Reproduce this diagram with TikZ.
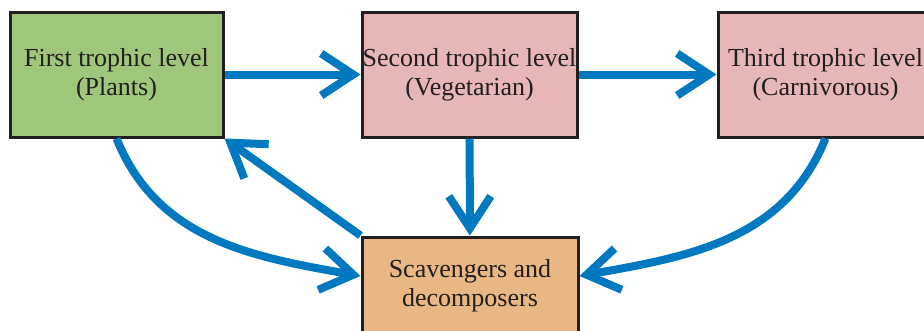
\documentclass[tikz,border=0pt]{standalone}
\usepackage{fontspec}
\setmainfont{Liberation Serif}
\usetikzlibrary{arrows.meta,positioning}
\definecolor{ink}{HTML}{231F20}
\definecolor{flow}{HTML}{0079C1}
\definecolor{plantgreen}{HTML}{9FC67A}
\definecolor{levelpink}{HTML}{E6B6B9}
\definecolor{decomp}{HTML}{E8B784}
\tikzset{
  level/.style={draw=ink,line width=3pt,minimum width=213pt,minimum height=125pt,inner sep=0pt,align=center,
    text=ink,font=\fontsize{26}{29}\selectfont},
  levela/.style={level,fill=plantgreen},
  levelb/.style={level,fill=levelpink},
  levelc/.style={level,fill=decomp,minimum width=216pt,minimum height=98pt},
  ar/.style={-{Straight Barb[length=32pt,width=42pt]},draw=flow,line width=8pt},
}

\begin{document}
\begin{tikzpicture}[x=1pt,y=1pt]
  \useasboundingbox (0,0) rectangle (924,-330);
  \node[levela] (first) at (116.5,-74.5) {First trophic level\\(Plants)};
  \node[levelb,minimum width=215pt] (second) at (469.5,-74.5) {Second trophic level\\(Vegetarian)};
  \node[levelb,minimum width=215pt] (third) at (825.5,-74.5) {Third trophic level\\(Carnivorous)};
  \node[levelc] (scav) at (470,-286) {Scavengers and\\decomposers};
  \draw[ar] (first) -- (second);
  \draw[ar] (second) -- (third);
  \draw[ar] (second) -- (scav);
  \draw[ar] (scav.north west) -- (first.south east);
  \draw[ar] (first.south) to[out=-68,in=170] ([yshift=10pt]scav.west);
  \draw[ar] (third.south) to[out=-112,in=10] ([yshift=10pt]scav.east);
\end{tikzpicture}
\end{document}
